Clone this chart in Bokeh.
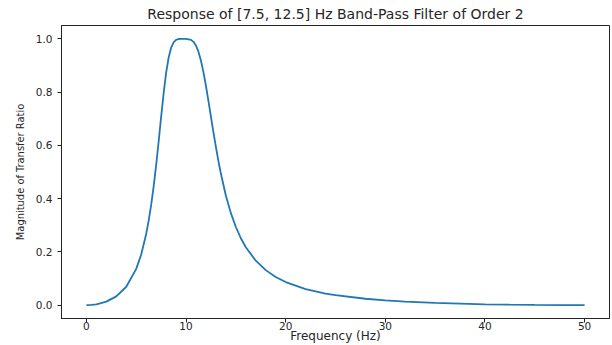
from bokeh.plotting import figure
from bokeh.models import Range1d, FixedTicker, Title
from bokeh.embed import file_html
from bokeh.resources import INLINE

# Frequency (Hz) and magnitude
freq = [0, 0.5, 1, 2, 3, 4, 5, 5.5, 6, 6.25, 6.5, 6.75, 7, 7.25, 7.5, 7.75, 8, 8.25,
        8.5, 8.75, 9, 9.25, 9.5, 10, 10.5, 10.75, 11, 11.25, 11.5, 11.75, 12, 12.25,
        12.5, 12.75, 13, 13.25, 13.5, 14, 14.5, 15, 15.5, 16, 17, 18, 19, 20, 22,
        24, 25, 28, 30, 32, 35, 40, 42.5, 45, 47.5, 50]
mag = [0.0, 0.0008, 0.0031, 0.0132, 0.0331, 0.0692, 0.1363, 0.1904, 0.2675, 0.3172,
       0.3765, 0.4461, 0.5257, 0.6145, 0.7071, 0.7954, 0.8720, 0.9289,
       0.9662, 0.9868, 0.9961, 0.9993, 0.9999, 0.9999, 0.9961, 0.9886, 0.9743,
       0.9509, 0.9174, 0.8740, 0.8228, 0.7658,
       0.7071, 0.6487, 0.5931, 0.5408, 0.4932, 0.4111, 0.3456, 0.2935, 0.2513,
       0.2174, 0.1670, 0.1316, 0.1060, 0.0868, 0.0605,
       0.0436, 0.0374, 0.0241, 0.0178, 0.0132, 0.0083, 0.0033, 0.0018, 0.0008,
       0.0002, 0.0]

x_ticks = [0, 10, 20, 30, 40, 50]
y_ticks = [0.0, 0.2, 0.4, 0.6, 0.8, 1.0]
title_text = "Response of [7.5, 12.5] Hz Band-Pass Filter of Order 2"
x_label = "Frequency (Hz)"
y_label = "Magnitude of Transfer Ratio"

FONT = "DejaVu Sans"
TXT = "#262626"

p = figure(width=612, height=345, output_backend="svg", toolbar_location=None,
           x_range=Range1d(-2.5, 52.5), y_range=Range1d(-0.05, 1.05),
           min_border_left=61, min_border_right=3, min_border_top=4, min_border_bottom=10)

p.title = Title(text=title_text, align="center", text_font=FONT,
                text_font_size="14px", text_font_style="normal", text_color=TXT,
                offset=0, standoff=7)

p.line(freq, mag, line_color="#1f77b4", line_width=1.8)

p.xgrid.visible = False
p.ygrid.visible = False
p.outline_line_color = "#222222"
p.outline_line_width = 1
p.background_fill_color = "white"
p.border_fill_color = "white"

for ax in (p.xaxis[0], p.yaxis[0]):
    ax.axis_line_color = "#222222"
    ax.major_tick_line_color = "#222222"
    ax.major_tick_out = 4
    ax.major_tick_in = 0
    ax.minor_tick_line_color = None
    ax.major_label_text_font = FONT
    ax.major_label_text_font_size = "10.5px"
    ax.major_label_text_color = TXT
    ax.axis_label_text_font_style = "normal"
    ax.axis_label_text_color = TXT

p.xaxis.ticker = FixedTicker(ticks=x_ticks)
p.yaxis.ticker = FixedTicker(ticks=y_ticks)
p.yaxis.major_label_overrides = {v: f"{v:.1f}" for v in y_ticks}
p.xaxis.major_label_standoff = -1
p.yaxis.major_label_standoff = 5
p.xaxis.axis_label = x_label
p.yaxis.axis_label = y_label
p.xaxis.axis_label_text_font = FONT
p.yaxis.axis_label_text_font = "DejaVu Sans Condensed"
p.xaxis.axis_label_text_font_size = "12px"
p.yaxis.axis_label_text_font_size = "11px"
p.xaxis.axis_label_standoff = -4
p.yaxis.axis_label_standoff = 6

open("out.html", "w").write(file_html(p, INLINE))
